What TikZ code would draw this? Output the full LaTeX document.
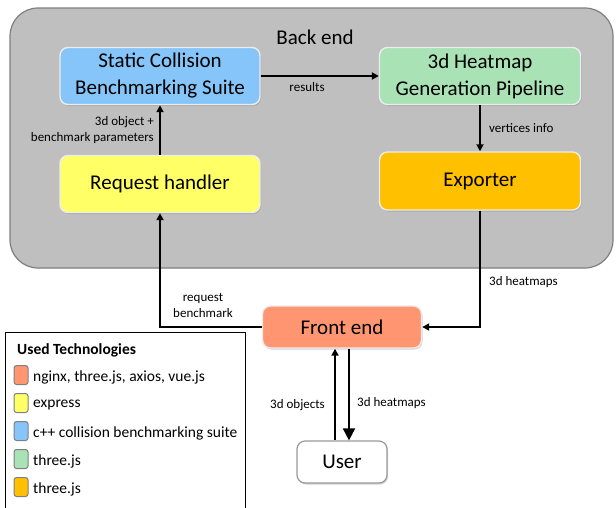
\documentclass[tikz,border=0pt]{standalone}
\usepackage{fontspec}
\setmainfont{Carlito}
\usetikzlibrary{arrows.meta,shadows}
\definecolor{cblue}{HTML}{86C5F9}
\definecolor{cgreen}{HTML}{A9E2B4}
\definecolor{cyellow}{HTML}{FFFF66}
\definecolor{corange}{HTML}{FFC000}
\definecolor{csalmon}{HTML}{FF9671}
\definecolor{cgray}{HTML}{BFBFBF}
\definecolor{cborder}{HTML}{7F7F7F}
\tikzset{
  box/.style={draw=white!85!gray, line width=1.4pt, rounded corners=8pt,
    align=center, font=\fontsize{21}{27}\selectfont, inner sep=0pt,
    drop shadow={shadow xshift=1pt, shadow yshift=-1.5pt, opacity=0.35}},
  lbl/.style={font=\fontsize{13}{16}\selectfont, align=center, inner sep=0pt},
  conn/.style={line width=1.8pt, -{Triangle[length=7pt,width=7pt]}},
  swatch/.style={draw=gray, line width=1pt, rounded corners=2.5pt,
    minimum width=14pt, minimum height=19pt, inner sep=0pt},
  legtext/.style={font=\fontsize{15.5}{18}\selectfont, anchor=west, inner sep=0pt}
}
\begin{document}
\begin{tikzpicture}[x=1pt,y=-1pt]
\useasboundingbox (0,0) rectangle (616,507);
\clip (0,0) rectangle (616,507);
% container
\draw[fill=cgray, draw=cborder, line width=1.2pt, rounded corners=28pt] (10,8) rectangle (613,268);
\node[font=\fontsize{21}{27}\selectfont, inner sep=0pt] (be) at (315,37) {Back end};
% boxes
\node[box, fill=cblue, minimum width=200pt, minimum height=57pt] (sc) at (160,76) {Static Collision\\Benchmarking Suite};
\node[box, fill=cgreen, minimum width=201pt, minimum height=57pt] (hm) at (480,76) {3d Heatmap\\Generation Pipeline};
\node[box, fill=cyellow, minimum width=200pt, minimum height=57pt] (rh) at (160,184) {Request handler};
\node[box, fill=corange, minimum width=201pt, minimum height=58pt] (ex) at (480,181) {Exporter};
\node[box, fill=csalmon, minimum width=159pt, minimum height=42pt] (fe) at (342,327) {Front end};
\node[box, fill=white, draw=gray!80, line width=1.2pt, minimum width=90pt, minimum height=42pt] (us) at (342,462) {User};
% connectors
\draw[conn] (sc.east) -- (hm.west);
\draw[conn] (rh.north) -- (sc.south);
\draw[conn] (hm.south) -- (ex.north);
\draw[conn] (ex.south) |- (fe.east);
\draw[conn] (fe.west) -| (rh.south);
\draw[conn] ([xshift=-7pt]us.north) -- ([xshift=-7pt]fe.south);
\draw[line width=1.8pt, -{Triangle[length=12pt,width=12pt]}] ([xshift=7pt]fe.south) -- ([xshift=7pt]us.north);
% labels
\node[lbl] (l1) at (307,87) {results};
\node[lbl, align=right, anchor=east] (l2) at (154,130) {3d object +\\benchmark parameters};
\node[lbl, anchor=west] (l3) at (489,128) {vertices info};
\node[lbl, anchor=west] (l4) at (489,282) {3d heatmaps};
\node[lbl] (l5) at (203,305) {request\\benchmark};
\node[lbl, anchor=east] (l6) at (325,405) {3d objects};
\node[lbl, anchor=west] (l7) at (357,403) {3d heatmaps};
% legend
\draw[line width=1pt] (5,510) -- (5,332) -- (245,332) -- (245,510);
\node[font=\fontsize{15.5}{18}\selectfont\bfseries, anchor=west, inner sep=0pt] (lt) at (17,350) {Used Technologies};
\node[swatch, fill=csalmon] (s1) at (21,375) {};
\node[swatch, fill=cyellow] (s2) at (21,403) {};
\node[swatch, fill=cblue] (s3) at (21,431) {};
\node[swatch, fill=cgreen] (s4) at (21,459) {};
\node[swatch, fill=corange] (s5) at (21,487) {};
\node[legtext] (t1) at (33,377) {nginx, three.js, axios, vue.js};
\node[legtext] (t2) at (33,405) {express};
\node[legtext] (t3) at (33,433) {c++ collision benchmarking suite};
\node[legtext] (t4) at (33,461) {three.js};
\node[legtext] (t5) at (33,489) {three.js};
\end{tikzpicture}
\end{document}
